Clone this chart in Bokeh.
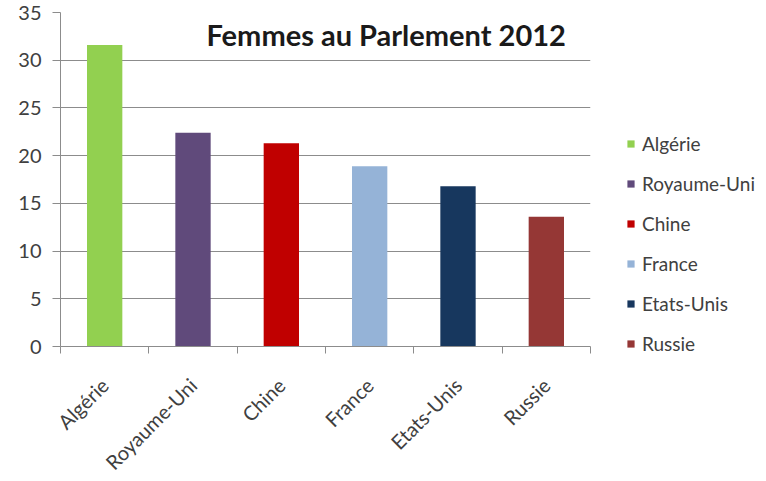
from bokeh.plotting import figure
from bokeh.models import ColumnDataSource, FixedTicker, Label, Legend, LegendItem, Range1d
from bokeh.embed import file_html
from bokeh.resources import INLINE

countries = ["Algérie", "Royaume-Uni", "Chine", "France", "Etats-Unis", "Russie"]
values = [31.6, 22.4, 21.3, 18.9, 16.8, 13.6]
colors = ["#92D050", "#604A7B", "#C00000", "#95B3D7", "#17375E", "#953735"]
y_ticks = [0, 5, 10, 15, 20, 25, 30, 35]
title_text = "Femmes au Parlement 2012"

FONT = "Lato"
TXT = "#404040"
GRID = "#8c8c8c"

positions = [i + 0.5 for i in range(len(countries))]
src = ColumnDataSource(dict(x=positions, top=values, color=colors, country=countries))

p = figure(frame_width=530, frame_height=334, output_backend="svg", toolbar_location=None,
           x_range=Range1d(0, len(countries)), y_range=Range1d(0, 35))
p.min_border_left = 60
p.min_border_right = 176
p.min_border_top = 12
p.min_border_bottom = 135
p.outline_line_color = None
p.background_fill_color = "white"
p.border_fill_color = "white"

r = p.vbar(x="x", top="top", width=0.4, fill_color="color", line_color=None, source=src)

# axes
p.xaxis.ticker = FixedTicker(ticks=positions, minor_ticks=list(range(len(countries) + 1)))
p.xaxis.major_label_overrides = {pos: c for pos, c in zip(positions, countries)}
p.xaxis.major_tick_line_color = None
p.xaxis.minor_tick_line_color = GRID
p.xaxis.minor_tick_out = 7
p.xaxis.minor_tick_in = 0
p.xaxis.major_label_orientation = 0.785398
p.xaxis.major_label_standoff = 28
p.xaxis.axis_line_color = GRID

p.yaxis.ticker = FixedTicker(ticks=y_ticks)
p.yaxis.minor_tick_line_color = None
p.yaxis.major_tick_out = 8
p.yaxis.major_tick_in = 0
p.yaxis.major_tick_line_color = GRID
p.yaxis.axis_line_color = GRID
p.yaxis.major_label_standoff = 11

for ax in (p.xaxis, p.yaxis):
    ax.major_label_text_font = FONT
    ax.major_label_text_font_size = "20px"
    ax.major_label_text_color = TXT

p.xgrid.grid_line_color = None
p.ygrid.ticker = FixedTicker(ticks=y_ticks)
p.ygrid.grid_line_color = GRID
p.ygrid.grid_line_width = 1

# title inside plot
p.add_layout(Label(x=146, y=295, x_units="screen", y_units="screen", text=title_text,
                   text_font=FONT, text_font_style="bold", text_font_size="29px",
                   text_color="#1a1a1a"))

# legend in right panel
items = [LegendItem(label=c, renderers=[r], index=i) for i, c in enumerate(countries)]
legend = Legend(items=items, location=(36, -9), glyph_width=9, glyph_height=9,
                label_height=20, spacing=17, label_text_font=FONT,
                label_text_font_size="19px", label_text_color=TXT,
                border_line_color=None, background_fill_alpha=0, padding=0,
                margin=0, label_standoff=7)
p.add_layout(legend, "right")

open("out.html", "w").write(file_html(p, INLINE))
